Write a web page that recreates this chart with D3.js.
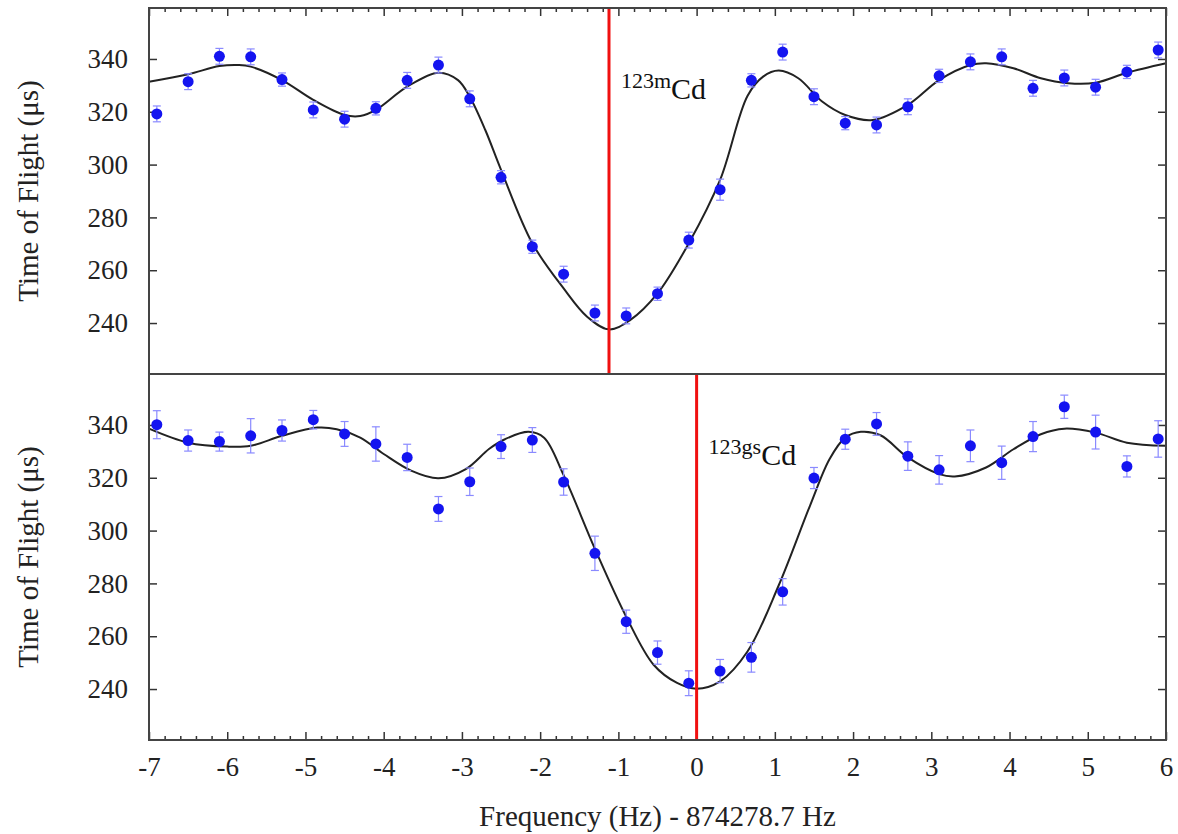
<!DOCTYPE html>
<meta charset="utf-8">
<style>
    body { margin: 0; background: #fff; }
    .tick line { stroke: #333; stroke-width: 1.5px; }
    .frame { fill: none; stroke: #444; stroke-width: 2px; }
    .fit { fill: none; stroke: #222; stroke-width: 2px; }
    .err { stroke: #8a8aff; stroke-width: 1.2px; }
    .pt { fill: #1414f0; }
    .center { stroke: #f01010; stroke-width: 3px; }
</style>
<svg width="1178" height="834"></svg>
<script src="https://cdn.jsdelivr.net/npm/d3@7"></script>
<script>

    var serif = "'Liberation Serif', 'DejaVu Serif', serif";

    // frequency offsets (Hz) of the measured points, shared by both panels
    var freq = [-6.9, -6.5, -6.1, -5.7, -5.3, -4.9, -4.5, -4.1, -3.7, -3.3, -2.9,
        -2.5, -2.1, -1.7, -1.3, -0.9, -0.5, -0.1, 0.3, 0.7, 1.1, 1.5, 1.9, 2.3,
        2.7, 3.1, 3.5, 3.9, 4.3, 4.7, 5.1, 5.5, 5.9];

    // 123mCd (upper panel)
    var tofM = [319.2, 331.4, 341.0, 340.8, 332.2, 320.7, 317.2, 321.3, 331.9, 337.7, 324.9,
        295.2, 268.9, 258.5, 243.8, 242.7, 251.1, 271.4, 290.5, 331.9, 342.6, 325.7,
        315.7, 315.0, 321.9, 333.6, 338.9, 340.8, 328.9, 332.8, 329.3, 335.1, 343.4];
    var errM = [3, 3, 3, 3, 2.5, 3, 3, 2.5, 3, 3, 3, 2.5, 2.5, 3, 3, 3, 2.5, 3, 4,
        2.5, 3, 3, 2.5, 3, 3, 2.5, 3, 3, 3, 3, 3, 2.5, 3];
    var fitMx = [-7.0, -6.5, -6.1, -5.85, -5.7, -5.3, -4.9, -4.5, -4.3, -4.1, -3.7, -3.3,
        -3.05, -2.9, -2.7, -2.5, -2.1, -1.7, -1.4, -1.12, -0.85, -0.5, -0.1, 0.3, 0.65,
        0.85, 1.05, 1.3, 1.6, 1.9, 2.25, 2.7, 3.1, 3.5, 3.7, 4.05, 4.4, 4.75, 5.1, 5.5, 6.0];
    var fitMy = [331.4, 334.2, 337.3, 337.7, 337.1, 332.0, 324.5, 318.8, 318.4, 320.7, 329.5, 334.8,
        332.0, 325.7, 313.0, 298.0, 270.2, 253.1, 242.4, 237.6, 241.1, 251.2, 270.2, 294.2, 326.0,
        333.3, 335.6, 332.7, 324.0, 318.8, 316.9, 322.6, 332.0, 337.7, 338.4, 336.5, 332.7, 330.8, 331.0, 334.8, 338.4];
    var centerM = -1.12;

    // 123gsCd (lower panel)
    var tofGs = [340.1, 334.1, 333.7, 335.9, 337.9, 342.0, 336.6, 332.8, 327.7, 308.2, 318.5,
        331.8, 334.3, 318.4, 291.4, 265.5, 253.8, 242.2, 246.8, 252.0, 276.8, 319.9,
        334.6, 340.4, 328.2, 323.0, 332.1, 325.7, 335.6, 346.9, 337.3, 324.3, 334.7];
    var errGs = [5.3, 4.0, 3.6, 6.5, 4.0, 3.5, 4.7, 6.5, 5.0, 4.7, 5.2, 4.5, 4.7, 5.0, 6.5,
        4.4, 4.4, 4.7, 4.4, 5.6, 5.0, 4.0, 3.8, 4.3, 5.4, 5.4, 6.0, 6.3, 5.7, 4.4, 6.4, 4.0, 6.9];
    var fitGx = [-7.0, -6.5, -6.0, -5.7, -5.3, -4.85, -4.6, -4.3, -4.0, -3.65, -3.3, -2.95,
        -2.65, -2.45, -2.15, -1.95, -1.7, -1.3, -0.9, -0.55, -0.25, 0.0, 0.3, 0.65, 1.05,
        1.45, 1.7, 1.9, 2.1, 2.35, 2.7, 3.1, 3.3, 3.7, 4.05, 4.4, 4.7, 5.1, 5.5, 6.0];
    var fitGy = [338.6, 333.3, 331.8, 332.1, 335.9, 339.0, 338.4, 335.2, 329.0, 322.7, 319.8, 323.3,
        331.0, 334.6, 337.4, 335.2, 321.0, 293.1, 267.4, 249.2, 242.3, 240.1, 242.9, 254.2, 279.3,
        309.5, 327.1, 335.2, 337.4, 336.1, 327.7, 321.4, 320.5, 323.9, 330.8, 336.5, 338.6, 337.1, 333.3, 332.1];
    var centerGs = 0.0;

    var xTicks = [-7, -6, -5, -4, -3, -2, -1, 0, 1, 2, 3, 4, 5, 6];
    var yTicks = [240, 260, 280, 300, 320, 340];

    var svg = d3.select("svg"),
            margin = {top: 8, right: 12, bottom: 94, left: 149},
            width = svg.attr("width") - margin.left - margin.right,
            panelH = (svg.attr("height") - margin.top - margin.bottom) / 2;

    var x = d3.scaleLinear().domain([-7, 6]).range([0, width]);
    var y = d3.scaleLinear().domain([220.7, 359.3]).range([panelH, 0]);

    var minorTicks = d3.range(-7, 6.001, 0.2).map(function(v) { return +v.toFixed(1); })
            .filter(function(v) { return xTicks.indexOf(v) < 0; });

    var line = d3.line()
            .curve(d3.curveCatmullRom.alpha(0.5))
            .x(function(d) { return x(d[0]); })
            .y(function(d) { return y(d[1]); });

    var panels = [
        {tof: tofM, err: errM, fx: fitMx, fy: fitMy, center: centerM, sup: "123m", top: true},
        {tof: tofGs, err: errGs, fx: fitGx, fy: fitGy, center: centerGs, sup: "123gs", top: false}
    ];

    // drop the axis line (frame drawn separately) and set serif tick labels
    function tidy(a) {
        a.select(".domain").remove();
        a.attr("font-family", serif).attr("font-size", 27);
        a.selectAll("text").style("font-family", serif).style("font-size", "27px").attr("fill", "#222");
    }

    panels.forEach(function(p, i) {
        var g = svg.append("g")
                .attr("transform", "translate(" + margin.left + "," + (margin.top + i * panelH) + ")");

        // y axes, ticks pointing inward on both sides
        g.append("g")
                .call(d3.axisLeft(y).tickValues(yTicks).tickSizeInner(-8).tickSizeOuter(0).tickPadding(21))
                .call(tidy);
        g.append("g")
                .attr("transform", "translate(" + width + ",0)")
                .call(d3.axisRight(y).tickValues(yTicks).tickSizeInner(-8).tickSizeOuter(0).tickFormat(""))
                .call(tidy);

        if (p.top) {
            // ticks along the top edge
            g.append("g")
                    .call(d3.axisTop(x).tickValues(xTicks).tickSizeInner(-8).tickSizeOuter(0).tickFormat(""))
                    .call(tidy);
            g.append("g")
                    .call(d3.axisTop(x).tickValues(minorTicks).tickSizeInner(-4).tickSizeOuter(0).tickFormat(""))
                    .call(tidy);
        } else {
            g.append("g")
                    .attr("transform", "translate(0," + panelH + ")")
                    .call(d3.axisBottom(x).tickValues(xTicks).tickSizeInner(-8).tickSizeOuter(0).tickPadding(17)
                            .tickFormat(function(d) { return String(d); }))
                    .call(tidy);
            g.append("g")
                    .attr("transform", "translate(0," + panelH + ")")
                    .call(d3.axisBottom(x).tickValues(minorTicks).tickSizeInner(-4).tickSizeOuter(0).tickFormat(""))
                    .call(tidy);
        }

        // fit curve
        g.append("path")
                .attr("class", "fit")
                .attr("d", line(d3.zip(p.fx, p.fy)));

        // error bars
        var data = freq.map(function(f, k) { return {f: f, v: p.tof[k], e: p.err[k]}; });
        var eb = g.selectAll(".eb").data(data).enter().append("g").attr("class", "eb");
        eb.append("line").attr("class", "err")
                .attr("x1", function(d) { return x(d.f); }).attr("x2", function(d) { return x(d.f); })
                .attr("y1", function(d) { return y(d.v - d.e); }).attr("y2", function(d) { return y(d.v + d.e); });
        [-1, 1].forEach(function(s) {
            eb.append("line").attr("class", "err")
                    .attr("x1", function(d) { return x(d.f) - 4; }).attr("x2", function(d) { return x(d.f) + 4; })
                    .attr("y1", function(d) { return y(d.v + s * d.e); }).attr("y2", function(d) { return y(d.v + s * d.e); });
        });

        // points
        g.selectAll(".pt").data(data).enter().append("circle")
                .attr("class", "pt")
                .attr("cx", function(d) { return x(d.f); })
                .attr("cy", function(d) { return y(d.v); })
                .attr("r", 5.5);

        // resonance centre
        g.append("line")
                .attr("class", "center")
                .attr("x1", x(p.center)).attr("x2", x(p.center))
                .attr("y1", 0).attr("y2", panelH);

        var lab = g.append("text")
                .attr("x", x(p.center) + 12)
                .attr("y", 91)
                .style("font-family", serif)
                .style("fill", "#111");
        lab.append("tspan").attr("dy", "-11").style("font-size", "22px").text(p.sup);
        lab.append("tspan").attr("dy", "11").style("font-size", "30px").text("Cd");

        // y title
        g.append("text")
                .attr("transform", "translate(" + (28 - margin.left) + "," + (panelH / 2) + ") rotate(-90)")
                .attr("dy", "0.35em")
                .style("text-anchor", "middle")
                .style("font-family", serif)
                .style("font-size", "29px")
                .style("fill", "#222")
                .text("Time of Flight (\u03bcs)");

        // frame
        g.append("rect")
                .attr("class", "frame")
                .attr("width", width)
                .attr("height", panelH);
    });

    // x title
    svg.append("text")
            .attr("x", margin.left + width / 2)
            .attr("y", 826)
            .style("text-anchor", "middle")
            .style("font-family", serif)
            .style("font-size", "29px")
            .style("fill", "#222")
            .text("Frequency (Hz) - 874278.7 Hz");

</script>
